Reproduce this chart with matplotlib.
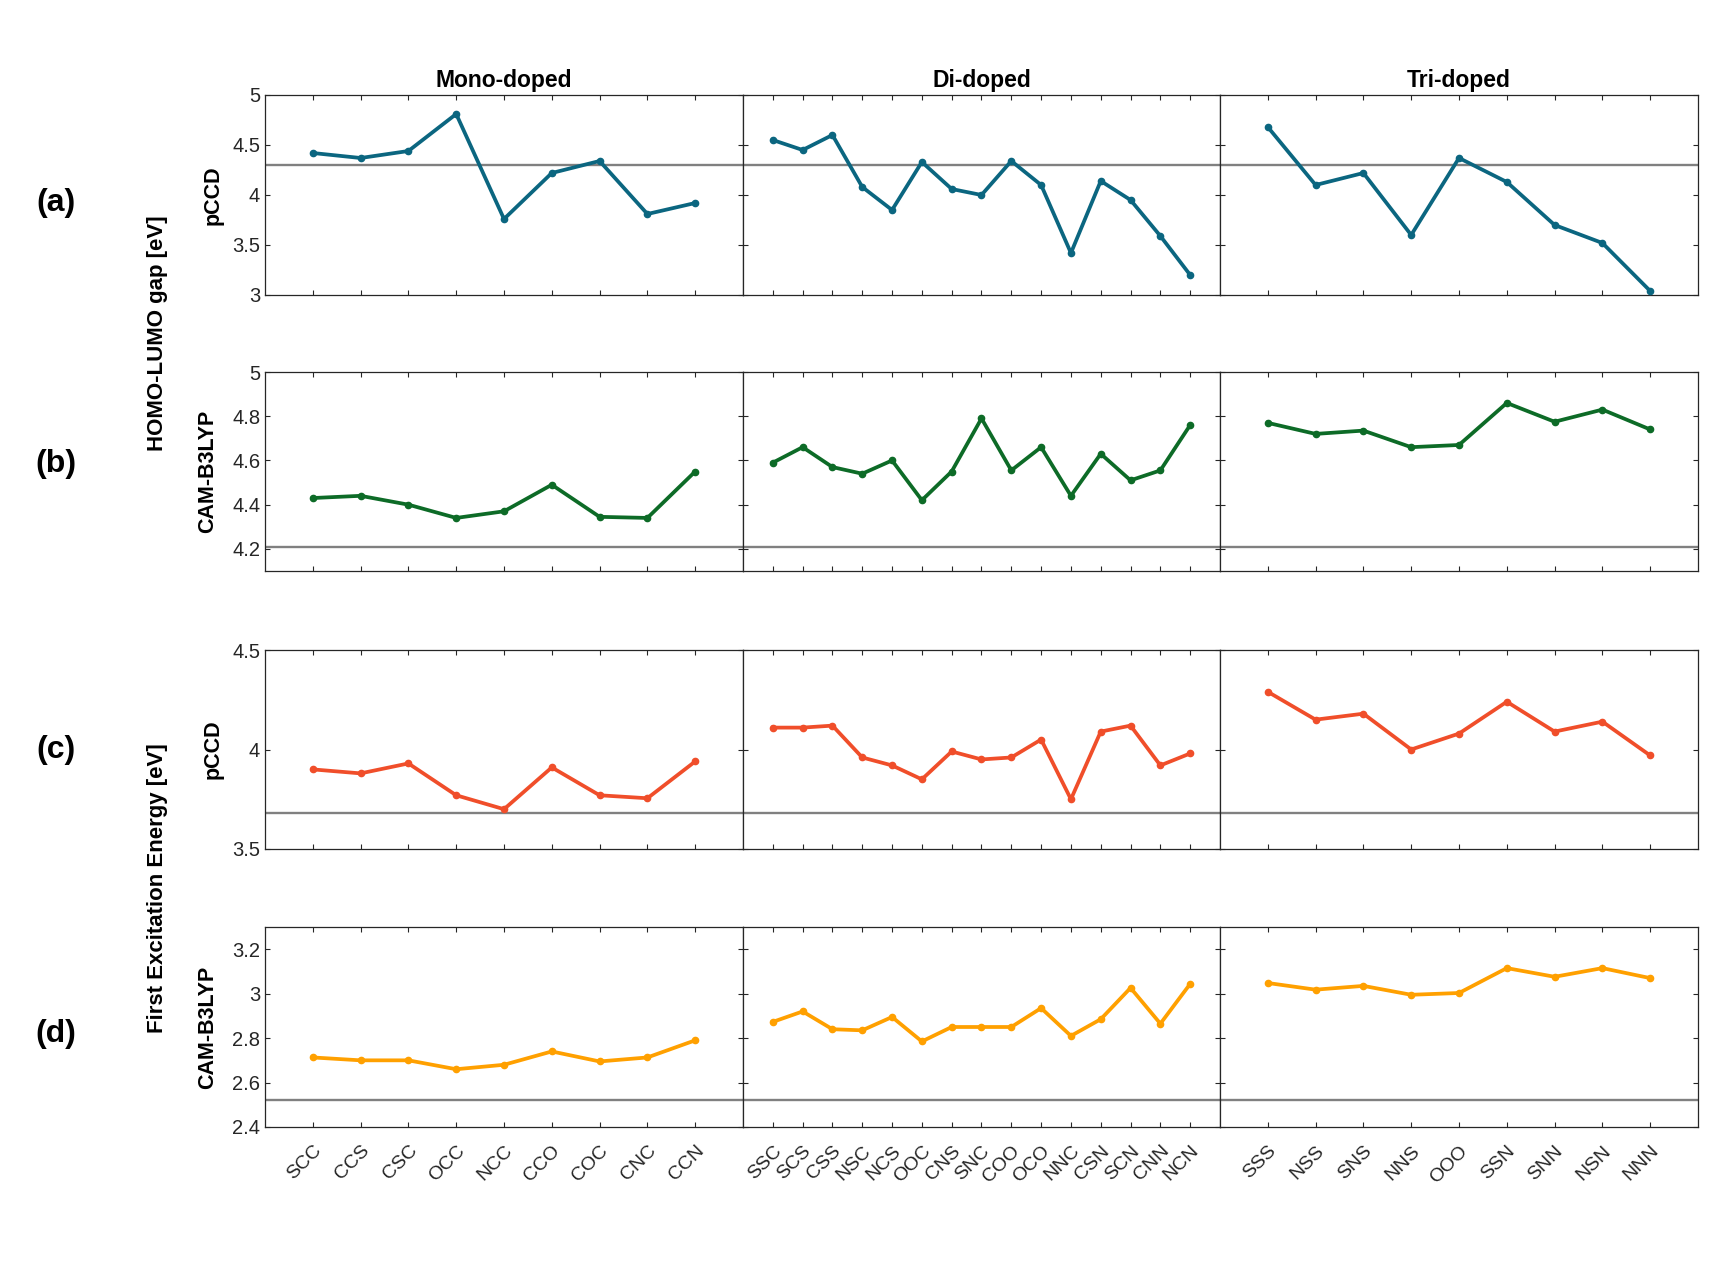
import matplotlib
matplotlib.use("Agg")
import matplotlib.pyplot as plt

plt.rcParams["font.family"] = ["Liberation Sans", "DejaVu Sans"]

mono_labels = ["SCC", "CCS", "CSC", "OCC", "NCC", "CCO", "COC", "CNC", "CCN"]
di_labels = ["SSC", "SCS", "CSS", "NSC", "NCS", "OOC", "CNS", "SNC", "COO",
             "OCO", "NNC", "CSN", "SCN", "CNN", "NCN"]
tri_labels = ["SSS", "NSS", "SNS", "NNS", "OOO", "SSN", "SNN", "NSN", "NNN"]

# HOMO-LUMO gap, pCCD
gap_pccd_mono = [4.42, 4.37, 4.44, 4.81, 3.76, 4.22, 4.34, 3.81, 3.92]
gap_pccd_di = [4.55, 4.45, 4.60, 4.08, 3.85, 4.33, 4.06, 4.00, 4.34,
               4.10, 3.42, 4.14, 3.95, 3.59, 3.20]
gap_pccd_tri = [4.68, 4.10, 4.22, 3.60, 4.37, 4.13, 3.70, 3.52, 3.04]

# HOMO-LUMO gap, CAM-B3LYP
gap_cam_mono = [4.43, 4.44, 4.40, 4.34, 4.37, 4.49, 4.345, 4.34, 4.55]
gap_cam_di = [4.59, 4.66, 4.57, 4.54, 4.60, 4.42, 4.55, 4.79, 4.555,
              4.66, 4.44, 4.63, 4.51, 4.555, 4.76]
gap_cam_tri = [4.77, 4.72, 4.735, 4.66, 4.67, 4.86, 4.775, 4.83, 4.74]

# First excitation energy, pCCD
exc_pccd_mono = [3.90, 3.88, 3.93, 3.77, 3.70, 3.91, 3.77, 3.755, 3.94]
exc_pccd_di = [4.11, 4.11, 4.12, 3.96, 3.92, 3.85, 3.99, 3.95, 3.96,
               4.05, 3.75, 4.09, 4.12, 3.92, 3.98]
exc_pccd_tri = [4.29, 4.15, 4.18, 4.00, 4.08, 4.24, 4.09, 4.14, 3.97]

# First excitation energy, CAM-B3LYP
exc_cam_mono = [2.713, 2.70, 2.70, 2.66, 2.68, 2.74, 2.695, 2.713, 2.79]
exc_cam_di = [2.873, 2.92, 2.84, 2.835, 2.895, 2.785, 2.85, 2.85, 2.85,
              2.935, 2.81, 2.885, 3.026, 2.865, 3.044]
exc_cam_tri = [3.048, 3.018, 3.035, 2.995, 3.003, 3.115, 3.076, 3.115, 3.07]

# undoped reference values (grey lines)
ref_values = [4.30, 4.21, 3.68, 2.52]

col_titles = ["Mono-doped", "Di-doped", "Tri-doped"]
col_labels = [mono_labels, di_labels, tri_labels]

rows = [
    ([gap_pccd_mono, gap_pccd_di, gap_pccd_tri], "pCCD", "#0B6680",
     (3, 5), [3, 3.5, 4, 4.5, 5], "(a)"),
    ([gap_cam_mono, gap_cam_di, gap_cam_tri], "CAM-B3LYP", "#0D6B27",
     (4.1, 5), [4.2, 4.4, 4.6, 4.8, 5], "(b)"),
    ([exc_pccd_mono, exc_pccd_di, exc_pccd_tri], "pCCD", "#F04E2A",
     (3.5, 4.5), [3.5, 4, 4.5], "(c)"),
    ([exc_cam_mono, exc_cam_di, exc_cam_tri], "CAM-B3LYP", "#FFA000",
     (2.4, 3.3), [2.4, 2.6, 2.8, 3, 3.2], "(d)"),
]

W, H = 1733, 1266
fig = plt.figure(figsize=(W / 100, H / 100), dpi=100)

col_x = [(265, 478), (743, 477), (1220, 478)]   # left, width in px
row_y = [(95, 200), (372, 199), (650, 199), (927, 200)]  # top, height in px
method_x = [213, 208, 213, 208]
tag_y = [203, 464, 750, 1034]
dark = "#262626"

for r, (series, method, color, ylim, yticks, tag) in enumerate(rows):
    top, h = row_y[r]
    for c in range(3):
        left, w = col_x[c]
        ax = fig.add_axes([left / W, 1 - (top + h) / H, w / W, h / H])
        labels = col_labels[c]
        x = list(range(1, len(labels) + 1))
        ax.axhline(ref_values[r], color="#808080", lw=1.7, zorder=1)
        ax.plot(x, series[c], "-o", color=color, lw=2.7, ms=4.5, zorder=3)
        ax.set_xlim(0, len(labels) + 1)
        ax.set_ylim(*ylim)
        ax.set_xticks(x)
        ax.set_yticks(yticks)
        ax.tick_params(direction="in", length=3.5, width=0.8, colors=dark,
                       top=True, right=True, labelsize=14.5)
        for s in ax.spines.values():
            s.set_color(dark)
            s.set_linewidth(0.9)
        if c == 0:
            ax.set_yticklabels([f"{t:g}" for t in yticks])
        else:
            ax.set_yticklabels([])
        if r == 3:
            ax.set_xticklabels(labels, rotation=45, ha="right", va="top",
                               rotation_mode="anchor", fontsize=14)
            ax.tick_params(axis="x", pad=11)
        else:
            ax.set_xticklabels([])
        if r == 0:
            ax.set_title(col_titles[c], fontsize=16.5, fontweight="bold", pad=6)
    fig.text(method_x[r] / W, 1 - (top + h / 2) / H, method, rotation=90,
             fontsize=15.5, fontweight="bold", ha="center", va="center")
    fig.text(56 / W, 1 - tag_y[r] / H, tag, fontsize=23,
             fontweight="bold", ha="center", va="center")

fig.text(158 / W, 1 - 333 / H, "HOMO-LUMO gap [eV]", rotation=90,
         fontsize=16, fontweight="bold", ha="center", va="center")
fig.text(158 / W, 1 - 888 / H, "First Excitation Energy [eV]", rotation=90,
         fontsize=16, fontweight="bold", ha="center", va="center")

fig.savefig("out.png", dpi=100, facecolor="white")
